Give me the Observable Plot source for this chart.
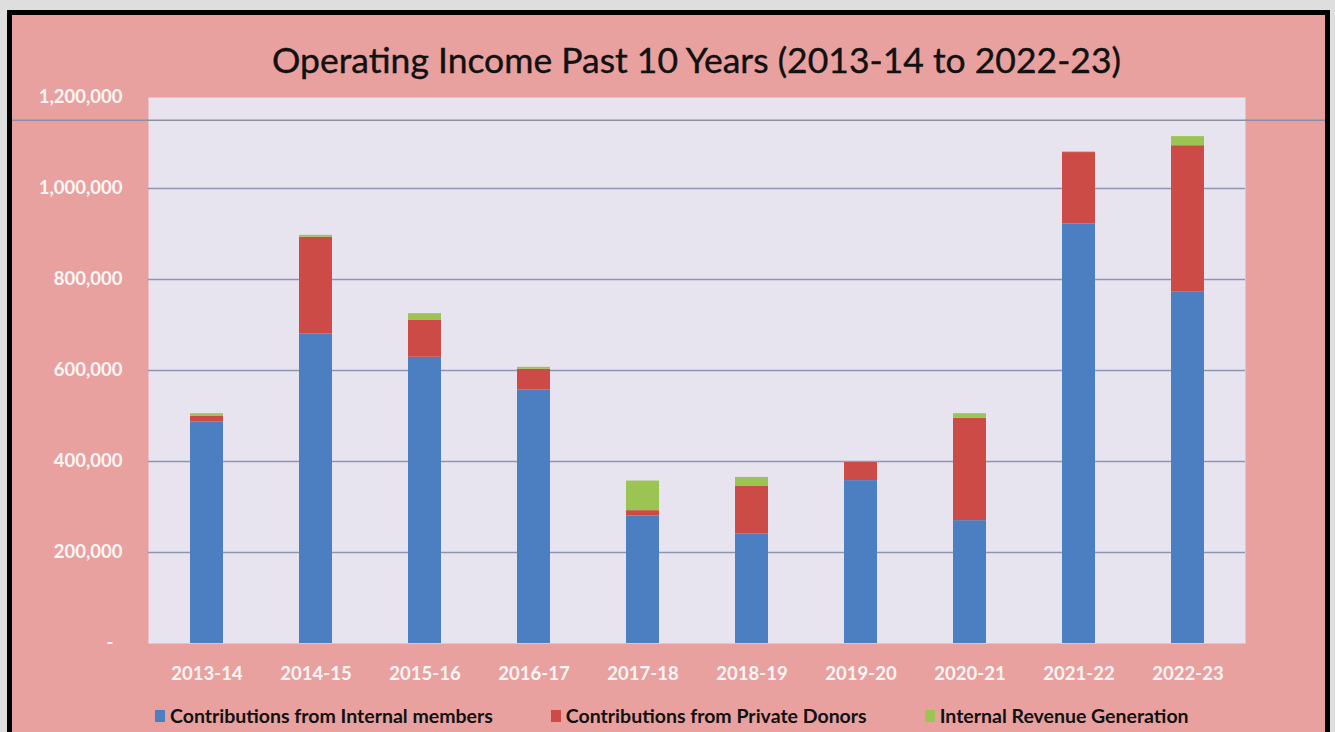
<!DOCTYPE html>
<html>
<head>
<meta charset="utf-8">
<script src="https://cdn.jsdelivr.net/npm/d3@7"></script>
<script src="https://cdn.jsdelivr.net/npm/@observablehq/plot@0.6"></script>
<style>
  html, body { margin: 0; padding: 0; background: #dedede; width: 1335px; height: 732px; overflow: hidden; font-family: Lato, "Open Sans", sans-serif; }
  #frame { position: absolute; left: 7px; top: 10px; width: 1313px; height: 740px; border: 5px solid #000; border-bottom: none; background: #e8a19f; }
  #title { height: 70px; box-sizing: border-box; padding: 25px 80px 0 136px; text-align: center; font-size: 35.5px; line-height: 40px; color: #111; white-space: nowrap; -webkit-text-stroke: 0.4px #111; }
  #chart svg { display: block; }
  #legend { position: absolute; top: 689px; left: 143px; display: flex; gap: 58px; font-size: 19.5px; font-weight: bold; color: #111; line-height: 24px; white-space: nowrap; }
  #legend .item { display: flex; align-items: center; }
  #legend .sw { display: inline-block; width: 10px; height: 12px; margin-right: 5px; }
</style>
</head>
<body>
<div id="frame">
  <div id="title">Operating Income Past 10 Years (2013-14 to 2022-23)</div>
  <div id="chart"></div>
  <div id="legend"></div>
</div>
<script>
const years = ["2013-14", "2014-15", "2015-16", "2016-17", "2017-18", "2018-19", "2019-20", "2020-21", "2021-22", "2022-23"];
const internalMembers = [487000, 680000, 629000, 557000, 280000, 241000, 358000, 270000, 922000, 772000];
const privateDonors   = [12000, 213000, 82000, 46000, 12000, 104000, 40000, 225000, 157000, 322000];
const revenueGen      = [6000, 4000, 14000, 4000, 65000, 20000, 1000, 10000, 1500, 20000];
const seriesNames = ["Contributions from Internal members", "Contributions from Private Donors", "Internal Revenue Generation"];
const seriesColors = ["#4b7fc2", "#cd4b47", "#9cc453"];
const yTicks = [0, 200000, 400000, 600000, 800000, 1000000, 1200000];
const gridTicks = [200000, 400000, 600000, 800000, 1000000];
const refLine = [1150000];

const seriesValues = [internalMembers, privateDonors, revenueGen];
const rows = seriesNames.flatMap((s, i) => years.map((yr, j) => ({year: yr, series: s, value: seriesValues[i][j]})));

const fmt = d3.format(",");
const chart = Plot.plot({
  width: 1313,
  height: 605,
  marginLeft: 136,
  marginRight: 80,
  marginTop: 12,
  marginBottom: 47,
  style: {background: "transparent", fontFamily: "Lato, 'Open Sans', sans-serif", fontSize: "18.5px", fontWeight: "bold", color: "#fdf6f6"},
  x: {domain: years, paddingInner: 0.7, paddingOuter: 0.35, label: null, tickSize: 0, tickPadding: 23},
  y: {domain: [0, 1200000], ticks: yTicks, tickFormat: d => d === 0 ? "-\u00a0\u00a0" : fmt(d), label: null, tickSize: 0, tickPadding: 26},
  color: {domain: seriesNames, range: seriesColors},
  marks: [
    Plot.frame({fill: "#e7e4ef", stroke: null}),
    Plot.gridY(gridTicks, {stroke: "#8d95b3", strokeOpacity: 1, strokeWidth: 1.3}),
    Plot.ruleY(refLine, {stroke: "#8b8f9f", strokeWidth: 1.3, insetLeft: -136, insetRight: -80}),
    Plot.barY(rows, {x: "year", y: "value", fill: "series", order: seriesNames})
  ]
});
document.getElementById("chart").appendChild(chart);

const legend = document.getElementById("legend");
seriesNames.forEach((s, i) => {
  const item = document.createElement("div");
  item.className = "item";
  const sw = document.createElement("span");
  sw.className = "sw";
  sw.style.background = seriesColors[i];
  item.appendChild(sw);
  item.appendChild(document.createTextNode(s));
  legend.appendChild(item);
});
</script>
</body>
</html>
